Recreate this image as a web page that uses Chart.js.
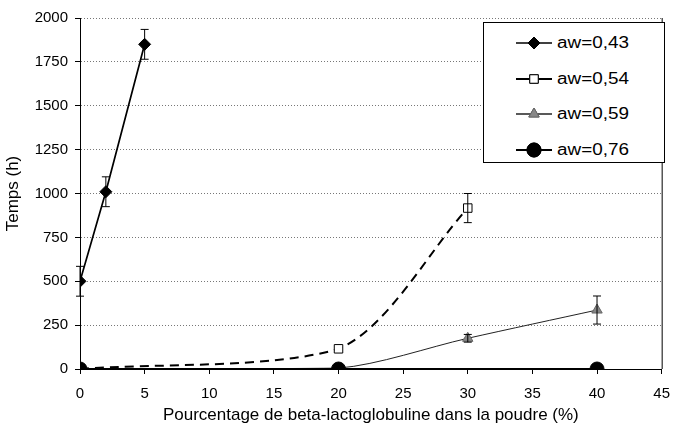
<!DOCTYPE html>
<html>
<head>
<meta charset="utf-8">
<script src="https://cdn.jsdelivr.net/npm/chart.js@4/dist/chart.umd.min.js"></script>
<style>
  html, body { margin: 0; padding: 0; background: #fff; }
  #wrap { position: relative; width: 681px; height: 427px; }
  #legend { position: absolute; left: 483px; top: 22px; width: 180px; height: 139px; border: 1px solid #000; background: #fff;
            font-family: "Liberation Sans", Arial, sans-serif; }
  .item { position: absolute; left: 32px; height: 24px; display: flex; align-items: center; }
  .item span { font-size: 16px; display: inline-block; transform: scaleX(1.18); transform-origin: left center; margin-left: 5px; color: #000; }
</style>
</head>
<body>
<div id="wrap">
  <canvas id="c" width="681" height="427"></canvas>
  <div id="legend"></div>
</div>
<script>
// ---- data ----
const seriesNames = ["aw=0,43", "aw=0,54", "aw=0,59", "aw=0,76"];
const x043 = [0, 2, 5];
const y043 = [500, 1010, 1850];
const e043 = [85, 85, 85];
const x054 = [0, 20, 30];
const y054 = [0, 115, 917];
const e054 = [0, 0, 83];
const x059 = [0, 20, 30, 40];
const y059 = [0, 5, 175, 336];
const e059 = [0, 0, 22, 80];
const x076 = [0, 20, 40];
const y076 = [0, 0, 0];
const e076 = [0, 0, 0];
const xTickMax = 45;
const yTickMax = 2000;

function pts(xs, ys) { return xs.map((x, i) => ({ x: x, y: ys[i] })); }

const styles = [
  { pointStyle: 'rectRot', radius: 6, bg: '#000', border: '#000', line: '#000', width: 1.7, dash: [], tension: 0 },
  { pointStyle: 'rect', radius: 6, bg: '#fff', border: '#000', line: '#000', width: 2, dash: [9, 6], tension: 0.3 },
  { pointStyle: 'triangle', radius: 6, bg: '#888', border: '#666', line: '#222', width: 1, dash: [], tension: 0.3 },
  { pointStyle: 'circle', radius: 7, bg: '#000', border: '#000', line: '#000', width: 2, dash: [], tension: 0 }
];
const dataSets = [pts(x043, y043), pts(x054, y054), pts(x059, y059), pts(x076, y076)];
const errs = [e043, e054, e059, e076];

const datasets = dataSets.map((d, i) => ({
  label: seriesNames[i],
  data: d,
  errors: errs[i],
  borderColor: styles[i].line,
  borderWidth: styles[i].width,
  borderDash: styles[i].dash,
  pointStyle: styles[i].pointStyle,
  pointRadius: styles[i].radius,
  pointBackgroundColor: styles[i].bg,
  pointBorderColor: styles[i].border,
  pointBorderWidth: 1,
  tension: styles[i].tension,
  fill: false,
  order: 4 - i
}));

const errorBars = {
  id: 'errorBars',
  afterDatasetsDraw(chart) {
    const ctx = chart.ctx;
    const xs = chart.scales.x, ys = chart.scales.y;
    ctx.save();
    ctx.strokeStyle = '#000';
    ctx.lineWidth = 1;
    chart.data.datasets.forEach(ds => {
      ds.data.forEach((p, i) => {
        const e = ds.errors[i];
        if (!e) return;
        const px = xs.getPixelForValue(p.x);
        const t = ys.getPixelForValue(p.y + e);
        const b = ys.getPixelForValue(p.y - e);
        ctx.beginPath();
        ctx.moveTo(px, t); ctx.lineTo(px, b);
        ctx.moveTo(px - 4, t); ctx.lineTo(px + 4, t);
        ctx.moveTo(px - 4, b); ctx.lineTo(px + 4, b);
        ctx.stroke();
      });
    });
    ctx.restore();
  }
};

const frame = {
  id: 'frame',
  beforeDatasetsDraw(chart) {
    const a = chart.chartArea, ctx = chart.ctx;
    ctx.save();
    ctx.strokeStyle = '#000';
    ctx.lineWidth = 1;
    ctx.beginPath();
    ctx.moveTo(a.right + 0.5, a.top);
    ctx.lineTo(a.right + 0.5, a.bottom);
    ctx.stroke();
    ctx.restore();
  }
};

const font = { family: '"Liberation Sans", Arial, sans-serif', size: 15 };

new Chart(document.getElementById('c'), {
  type: 'line',
  data: { datasets },
  options: {
    responsive: false,
    animation: false,
    layout: { padding: { left: 0, right: 11, top: 18, bottom: 0 } },
    plugins: { legend: { display: false }, tooltip: { enabled: false } },
    scales: {
      x: {
        type: 'linear', min: 0, max: xTickMax,
        ticks: { stepSize: 5, color: '#000', font: font, padding: 11, maxRotation: 0, callback: v => String(v) },
        grid: { drawOnChartArea: false, drawTicks: true, tickLength: 5, tickColor: '#000' },
        border: { display: true, color: '#000', width: 1 },
        title: { display: true, text: 'Pourcentage de beta-lactoglobuline dans la poudre (%)', color: '#000', font: { family: font.family, size: 17 }, padding: { top: 1, bottom: 1 } },
        afterFit(s) { s.height = 58; }
      },
      y: {
        min: 0, max: yTickMax,
        ticks: { stepSize: 250, color: '#000', font: font, padding: 7, callback: v => String(v) },
        grid: { color: '#777', drawTicks: true, tickLength: 5, tickColor: '#000', tickBorderDash: [] },
        border: { display: true, color: '#000', width: 1, dash: [1, 2] },
        title: { display: true, text: 'Temps (h)', color: '#000', font: { family: font.family, size: 17 }, padding: { top: 3, bottom: 3 } },
        afterFit(s) { s.width = 80; }
      }
    }
  },
  plugins: [errorBars, frame]
});

// HTML legend with icons
const legend = document.getElementById('legend');
styles.forEach((st, i) => {
  const div = document.createElement('div');
  div.className = 'item';
  div.style.top = (8 + i * 35.5) + 'px';
  const cv = document.createElement('canvas');
  cv.width = 36; cv.height = 20;
  const g = cv.getContext('2d');
  g.strokeStyle = st.line; g.lineWidth = Math.max(st.width, 1.5);
  g.beginPath(); g.moveTo(0, 10); g.lineTo(36, 10); g.stroke();
  g.fillStyle = st.bg; g.strokeStyle = st.border; g.lineWidth = 1;
  Chart.helpers.drawPoint(g, { pointStyle: st.pointStyle, radius: st.radius, borderWidth: 1 }, 18, 10);
  g.fill(); g.stroke();
  div.appendChild(cv);
  const sp = document.createElement('span');
  sp.textContent = seriesNames[i];
  div.appendChild(sp);
  legend.appendChild(div);
});
</script>
</body>
</html>
